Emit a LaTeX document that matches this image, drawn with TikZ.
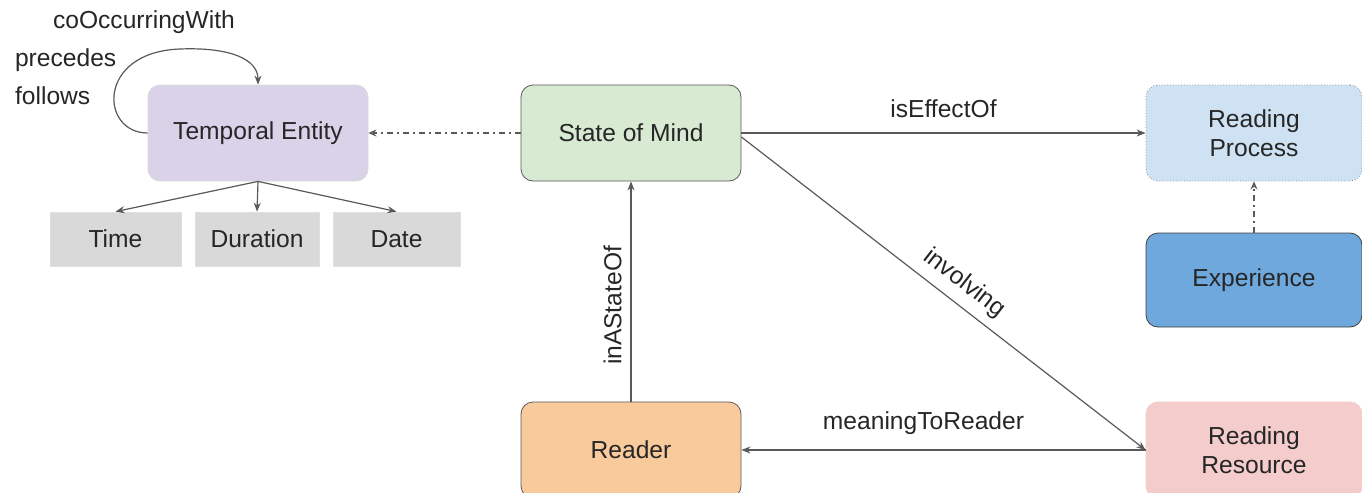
\documentclass[tikz,border=0pt]{standalone}
\usepackage{fontspec}
\setmainfont{Liberation Sans}
\usepackage{tikz}
\usetikzlibrary{arrows.meta}

\definecolor{lineGray}{HTML}{595959}
\definecolor{textGray}{HTML}{262626}
\definecolor{teFill}{HTML}{D9D2E9}
\definecolor{leafFill}{HTML}{D9D9D9}
\definecolor{somFill}{HTML}{D9EAD3}
\definecolor{rpFill}{HTML}{CFE2F3}
\definecolor{expFill}{HTML}{6FA8DC}
\definecolor{readerFill}{HTML}{F9CB9C}
\definecolor{rrFill}{HTML}{F4CCCC}

\begin{document}
\begin{tikzpicture}[x=0.5pt, y=-0.5pt,
		every node/.style={font=\fontsize{12.3}{14.5}\selectfont, text=textGray},
		box/.style={rounded corners=6pt, align=center, minimum width=110pt, minimum height=48pt},
		leaf/.style={fill=leafFill, draw=black!12, minimum height=27pt},
		link/.style={draw=lineGray, line width=0.6pt, -{Stealth[length=4.5pt, width=3.5pt]}},
		dashdot/.style={draw=lineGray, line width=0.6pt, dash pattern=on 3pt off 2pt on 1pt off 2pt, -{Stealth[open, length=4pt, width=3.5pt]}}]
		%%%%% START %%%%%
		
		\useasboundingbox (0, 0) rectangle (1362, 493);
		\clip (0, 0) rectangle (1362, 493);
		
		% temporal part
		\node[box, fill=teFill, draw=black!15] (te) at (258, 133) {Temporal Entity};
		\node[leaf, minimum width=65.5pt] (time) at (115.5, 239) {Time};
		\node[leaf, minimum width=62pt] (duration) at (257, 239) {Duration};
		\node[leaf, minimum width=63.5pt] (date) at (396.5, 239) {Date};
		
		\draw[link] (te.south) -- (time.north);
		\draw[link] (te.south) -- (duration.north);
		\draw[link] (te.south) -- (date.north);
		
		\draw[link] (te.west) .. controls (100, 133) and (96, 52) .. (180, 49) .. controls (232, 47) and (258, 60) .. (te.north);
		\node[anchor=west] (cooc) at (46, 22) {coOccurringWith};
		\node[anchor=west] (prec) at (8, 60) {precedes};
		\node[anchor=west] (foll) at (8, 96) {follows};
		
		% main nodes
		\node[box, fill=somFill, draw=lineGray] (som) at (631, 133) {State of Mind};
		\node[box, fill=rpFill, draw=black!45, densely dotted, minimum width=108pt] (rp) at (1254, 133) {Reading\\Process};
		\node[box, fill=expFill, draw=black!75, minimum width=108pt, minimum height=47pt] (exp) at (1254, 280) {Experience};
		\node[box, fill=readerFill, draw=lineGray] (reader) at (631, 450) {Reader};
		\node[box, fill=rrFill, draw=rrFill, minimum width=108pt] (rr) at (1254, 450) {Reading\\Resource};
		
		\draw[dashdot] (som.west) -- (te.east);
		\draw[dashdot] (exp.north) -- (rp.south);
		
		\draw[link] (som.east) -- node[above=4pt] {isEffectOf} (rp.west);
		\draw[link] ([yshift=-2pt]som.east) -- node[sloped, above=1pt, pos=0.52] {involving} (rr.west);
		\draw[link] (rr.west) -- node[above=4pt, xshift=-10pt] {meaningToReader} (reader.east);
		\draw[link] (reader.north) -- node[sloped, above=1pt, xshift=-7pt] {inAStateOf} (som.south);
		
		%%%%% END %%%%%
	\end{tikzpicture}
\end{document}
